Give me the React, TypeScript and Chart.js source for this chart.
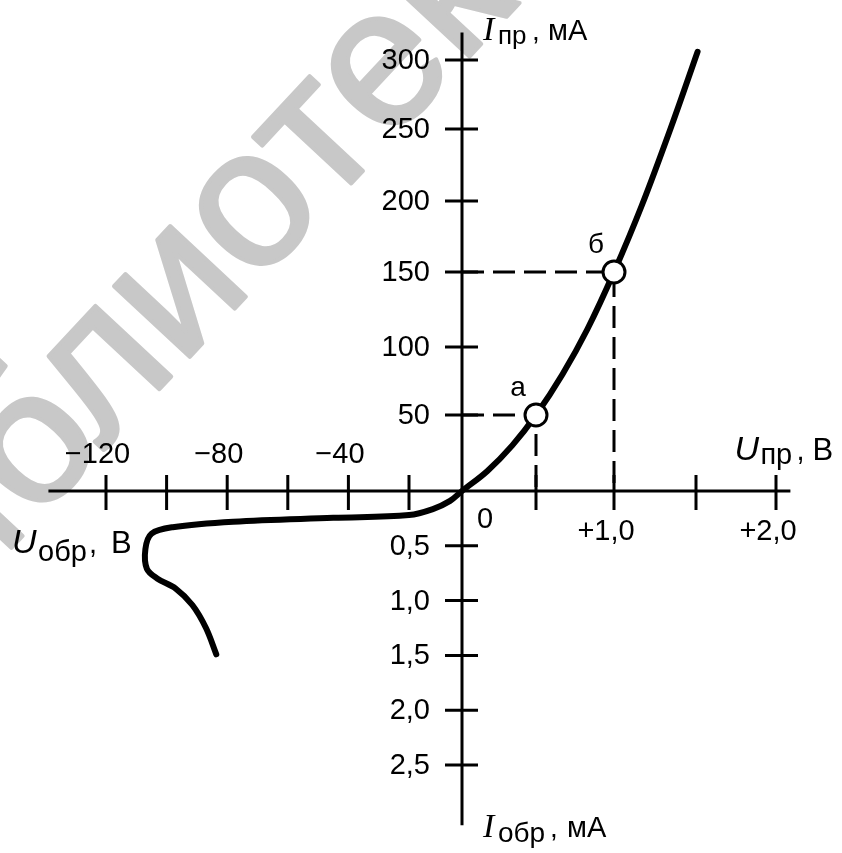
import { useEffect, useRef } from 'react';
import { Chart, registerables, LinearScale } from 'chart.js';

// ---- data ----
// reverse branch (U in volts, I in mA; negative = обратное), from far end to origin
const reverseU = [-83.6, -87, -91.5, -97, -103, -106.5, -107, -105, -98, -78, -45, -20, -11, -4.5, 0];
const reverseI = [-1.49, -1.25, -1.04, -0.89, -0.8, -0.71, -0.53, -0.39, -0.33, -0.28, -0.245, -0.22, -0.165, -0.09, 0];
// forward branch
const forwardU = [0.17, 0.34, 0.5, 0.67, 0.83, 1.0, 1.17, 1.35, 1.51];
const forwardI = [13, 30, 50, 80, 112, 150, 197, 252, 306];
// marked points
const markU = [0.5, 1.0];
const markI = [50, 150];
const markLabels = ['\u0430', '\u0431']; // а, б
// ticks
const xTickValues = [-120, -100, -80, -60, -40, -20, 0.5, 1.0, 1.5, 2.0];
const xTickLabels = ['−120', '', '−80', '', '−40', '', '', '+1,0', '', '+2,0'];
const yTickValues = [50, 100, 150, 200, 250, 300, -0.5, -1.0, -1.5, -2.0, -2.5];
const yTickLabels = ['50', '100', '150', '200', '250', '300', '0,5', '1,0', '1,5', '2,0', '2,5'];
const xAxisRange = [-139, 2.09];
const yAxisRange = [-3.05, 320];

// axis title pieces
const SUB_PR = '\u043F\u0440'; // пр
const SUB_OBR = '\u043E\u0431\u0440'; // обр
const UNIT_MA = '\u043C\u0410'; // мА
const UNIT_V = '\u0412'; // В
const WATERMARK = '\u0431\u0438\u0431\u043B\u0438\u043E\u0442\u0435\u043A\u0430'; // библиотека

// ---- scale definition (non-uniform axis: values -> relative position on canvas) ----
const W = 842;
const H = 853;
const xAnchorValues = [-120, -20, 0, 0.5, 1.0, 1.5, 2.0];
const xAnchorPos = [106, 409, 462, 536, 614, 696, 776].map((p) => p / W);
const yAnchorValues = [-2.5, 0, 50, 100, 150, 200, 250, 300];
const yAnchorPos = [765, 491, 415, 347, 272, 201, 129, 60].map((p) => p / H);

class AnchoredScale extends LinearScale {
  static id = 'anchored';
  static defaults = LinearScale.defaults;
  span(): number {
    return this.isHorizontal() ? this.chart.width : this.chart.height;
  }
  getPixelForValue(value: number): number {
    const a = (this.options as any).anchors;
    const vs: number[] = a.values;
    const fs: number[] = a.pos;
    let i = 0;
    while (i < vs.length - 2 && value > vs[i + 1]) i++;
    const t = (value - vs[i]) / (vs[i + 1] - vs[i]);
    return (fs[i] + t * (fs[i + 1] - fs[i])) * this.span();
  }
  getValueForPixel(pixel: number): number {
    const a = (this.options as any).anchors;
    const vs: number[] = a.values;
    const fs: number[] = a.pos;
    const f = pixel / this.span();
    let best = 0;
    for (let i = 0; i < vs.length - 1; i++) {
      const lo = Math.min(fs[i], fs[i + 1]);
      const hi = Math.max(fs[i], fs[i + 1]);
      if (f >= lo && f <= hi) { best = i; break; }
    }
    const t = (f - fs[best]) / (fs[best + 1] - fs[best]);
    return vs[best] + t * (vs[best + 1] - vs[best]);
  }
}

Chart.register(...registerables, AnchoredScale);

const SANS = '"Liberation Sans", Arial, sans-serif';
const SERIF = '"Liberation Serif", "Times New Roman", serif';

function drawParts(ctx: CanvasRenderingContext2D, parts: { t: string; font: string; x: number; y: number }[]) {
  ctx.textAlign = 'left';
  ctx.textBaseline = 'alphabetic';
  for (const p of parts) {
    ctx.font = p.font;
    ctx.fillText(p.t, p.x, p.y);
  }
}

const crossAxes = {
  id: 'crossAxes',
  beforeDraw(chart: any) {
    const ctx: CanvasRenderingContext2D = chart.ctx;
    ctx.save();
    ctx.fillStyle = '#ffffff';
    ctx.fillRect(0, 0, chart.width, chart.height);
    // watermark
    ctx.translate(255, 212);
    ctx.rotate((-47 * Math.PI) / 180);
    const fs = 196;
    ctx.font = `${fs}px ${SANS}`;
    ctx.fillStyle = '#c8c8c8';
    ctx.strokeStyle = '#c8c8c8';
    ctx.lineWidth = 4;
    ctx.lineJoin = 'round';
    ctx.textAlign = 'left';
    ctx.textBaseline = 'alphabetic';
    const pre = ctx.measureText(WATERMARK.slice(0, 5)).width;
    const wo = ctx.measureText(WATERMARK[5]).width;
    ctx.fillText(WATERMARK, -(pre + wo / 2), 0.26 * fs);
    ctx.strokeText(WATERMARK, -(pre + wo / 2), 0.26 * fs);
    ctx.restore();
  },
  beforeDatasetsDraw(chart: any) {
    const ctx: CanvasRenderingContext2D = chart.ctx;
    const xs = chart.scales.x;
    const ys = chart.scales.y;
    const ox = xs.getPixelForValue(0);
    const oy = ys.getPixelForValue(0);
    ctx.save();
    ctx.strokeStyle = '#000';
    ctx.fillStyle = '#000';
    ctx.lineWidth = 3;
    ctx.lineCap = 'butt';
    ctx.beginPath();
    ctx.moveTo(xs.getPixelForValue(xAxisRange[0]), oy);
    ctx.lineTo(xs.getPixelForValue(xAxisRange[1]), oy);
    ctx.moveTo(ox, ys.getPixelForValue(yAxisRange[1]));
    ctx.lineTo(ox, ys.getPixelForValue(yAxisRange[0]));
    xTickValues.forEach((v) => {
      const px = xs.getPixelForValue(v);
      ctx.moveTo(px, oy - 16);
      ctx.lineTo(px, oy + 19);
    });
    yTickValues.forEach((v) => {
      const py = ys.getPixelForValue(v);
      ctx.moveTo(ox - 17, py);
      ctx.lineTo(ox + 16, py);
    });
    ctx.stroke();

    ctx.font = `29px ${SANS}`;
    const minusW = ctx.measureText('−').width;
    xTickValues.forEach((v, i) => {
      const lab = xTickLabels[i];
      if (!lab) return;
      const px = xs.getPixelForValue(v);
      ctx.textAlign = 'center';
      ctx.textBaseline = 'alphabetic';
      if (v < 0) ctx.fillText(lab, px - minusW / 2, oy - 28);
      else ctx.fillText(lab, px - 8, oy + 49);
    });
    ctx.textAlign = 'left';
    ctx.fillText('0', ox + 15, oy + 37);
    yTickValues.forEach((v, i) => {
      const py = ys.getPixelForValue(v);
      ctx.textAlign = 'right';
      ctx.textBaseline = 'middle';
      ctx.fillText(yTickLabels[i], ox - 32, py + 1);
    });

    const top = ys.getPixelForValue(yAxisRange[1]);
    const bottom = ys.getPixelForValue(yAxisRange[0]);
    const right = xs.getPixelForValue(xAxisRange[1]);
    // I_пр, мА
    drawParts(ctx, [
      { t: 'I', font: `italic 34px ${SERIF}`, x: ox + 21, y: top + 8 },
      { t: SUB_PR, font: `26px ${SANS}`, x: ox + 36, y: top + 12 },
      { t: ',', font: `28px ${SANS}`, x: ox + 70, y: top + 8 },
      { t: UNIT_MA, font: `29px ${SANS}`, x: ox + 86, y: top + 8 },
    ]);
    // U_пр, В
    drawParts(ctx, [
      { t: 'U', font: `italic 34px ${SANS}`, x: right - 56, y: oy - 31 },
      { t: SUB_PR, font: `29px ${SANS}`, x: right - 30, y: oy - 27 },
      { t: ',', font: `29px ${SANS}`, x: right + 6, y: oy - 31 },
      { t: UNIT_V, font: `31px ${SANS}`, x: right + 22, y: oy - 31 },
    ]);
    // U_обр, В
    drawParts(ctx, [
      { t: 'U', font: `italic 34px ${SANS}`, x: 12, y: oy + 62 },
      { t: SUB_OBR, font: `29px ${SANS}`, x: 38, y: oy + 70 },
      { t: ',', font: `29px ${SANS}`, x: 89, y: oy + 62 },
      { t: UNIT_V, font: `31px ${SANS}`, x: 111, y: oy + 62 },
    ]);
    // I_обр, мА
    drawParts(ctx, [
      { t: 'I', font: `italic 34px ${SERIF}`, x: ox + 21, y: bottom + 12 },
      { t: SUB_OBR, font: `28px ${SANS}`, x: ox + 36, y: bottom + 17 },
      { t: ',', font: `28px ${SANS}`, x: ox + 88, y: bottom + 12 },
      { t: UNIT_MA, font: `29px ${SANS}`, x: ox + 105, y: bottom + 12 },
    ]);
    ctx.restore();
  },
  afterDatasetsDraw(chart: any) {
    const ctx: CanvasRenderingContext2D = chart.ctx;
    const xs = chart.scales.x;
    const ys = chart.scales.y;
    ctx.save();
    ctx.fillStyle = '#000';
    ctx.font = `28px ${SANS}`;
    ctx.textAlign = 'center';
    ctx.textBaseline = 'alphabetic';
    markU.forEach((u, i) => {
      const px = xs.getPixelForValue(u);
      const py = ys.getPixelForValue(markI[i]);
      ctx.fillText(markLabels[i], px - 18, py - 19);
    });
    ctx.restore();
  },
};

export default function App() {
  const ref = useRef<HTMLCanvasElement>(null);
  useEffect(() => {
    if (!ref.current) return;
    const curve = [
      ...reverseU.map((u, i) => ({ x: u, y: reverseI[i] })),
      ...forwardU.map((u, i) => ({ x: u, y: forwardI[i] })),
    ];
    const dashes = markU.map((u, i) => [
      { x: 0, y: markI[i] },
      { x: u, y: markI[i] },
      { x: u, y: 0 },
    ]);
    const chart = new Chart(ref.current, {
      type: 'line',
      data: {
        datasets: [
          {
            data: markU.map((u, i) => ({ x: u, y: markI[i] })),
            showLine: false,
            pointRadius: 11,
            pointBorderWidth: 3,
            pointBackgroundColor: '#ffffff',
            pointBorderColor: '#000000',
            clip: false,
          },
          ...dashes.map((d) => ({
            data: d,
            borderColor: '#000000',
            borderWidth: 3,
            borderDash: [22, 9],
            pointRadius: 0,
            tension: 0,
            fill: false,
            clip: false,
          })),
          {
            data: curve,
            borderColor: '#000000',
            borderWidth: 6,
            pointRadius: 0,
            tension: 0.35,
            fill: false,
            clip: false,
            borderCapStyle: 'round',
            borderJoinStyle: 'round',
          },
        ] as any,
      },
      options: {
        animation: false,
        responsive: false,
        layout: { padding: 0 },
        plugins: { legend: { display: false }, tooltip: { enabled: false } },
        events: [],
        scales: {
          x: {
            type: 'anchored' as any,
            display: false,
            min: xAxisRange[0],
            max: xAxisRange[1],
            anchors: { values: xAnchorValues, pos: xAnchorPos },
          } as any,
          y: {
            type: 'anchored' as any,
            display: false,
            min: yAxisRange[0],
            max: yAxisRange[1],
            anchors: { values: yAnchorValues, pos: yAnchorPos },
          } as any,
        },
      },
      plugins: [crossAxes],
    });
    return () => chart.destroy();
  }, []);
  return (
    <div style={{ position: 'fixed', left: 0, top: 0, width: W, height: H, background: '#fff' }}>
      <canvas ref={ref} width={W} height={H} style={{ display: 'block' }} />
    </div>
  );
}
